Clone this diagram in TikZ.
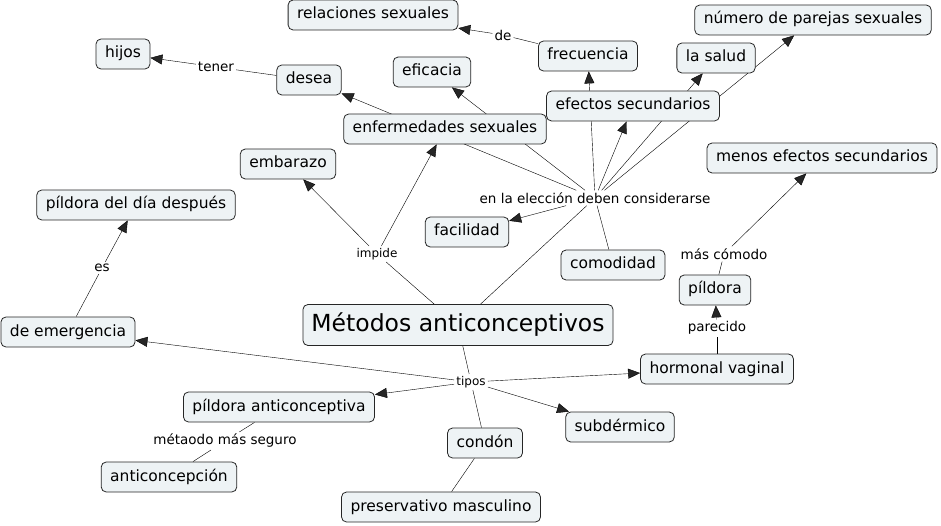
\documentclass[tikz,border=0pt]{standalone}
\usepackage{fontspec}
\setmainfont{DejaVu Sans}
\usetikzlibrary{arrows.meta}
\usetikzlibrary{backgrounds}
\definecolor{fondoconcepto}{HTML}{EEF3F5}

\tikzset{
  concepto/.style={draw=black!85, fill=fondoconcepto, rounded corners=5pt, line width=0.8pt,
    font=\fontsize{15.5}{18}\selectfont, inner xsep=9pt, inner ysep=7.5pt,
    text height=11.5pt, text depth=3.5pt},
  principal/.style={concepto, font=\fontsize{23.5}{27}\selectfont, inner xsep=8.5pt,
    inner ysep=9.5pt, text height=17pt, text depth=5pt},
  enlace/.style={inner sep=2pt, font=\fontsize{13.5}{16}\selectfont},
  enlacechico/.style={enlace, font=\fontsize{12}{14}\selectfont},
  flecha/.style={-{Triangle[length=12pt,width=10pt]}},
}

\begin{document}
\begin{tikzpicture}[x=1pt, y=-1pt]

  \useasboundingbox (0,0) rectangle (941,526);

  % conceptos
  \node[concepto] (relaciones) at (373,15) {relaciones sexuales};
  \node[concepto] (hijos) at (123,54) {hijos};
  \node[concepto] (desea) at (309,80) {desea};
  \node[concepto] (eficacia) at (432,72) {eficacia};
  \node[concepto] (frecuencia) at (588,56) {frecuencia};
  \node[concepto] (salud) at (716,58) {la salud};
  \node[concepto] (parejas) at (813,20) {número de parejas sexuales};
  \node[concepto] (efectos) at (633,106) {efectos secundarios};
  \node[concepto] (enfermedades) at (445,129) {enfermedades sexuales};
  \node[concepto] (embarazo) at (288,164) {embarazo};
  \node[concepto] (menos) at (822,158) {menos efectos secundarios};
  \node[concepto] (diadespues) at (136,205) {píldora del día después};
  \node[concepto] (facilidad) at (467,232) {facilidad};
  \node[concepto] (comodidad) at (613,265) {comodidad};
  \node[concepto] (pildora) at (715,290) {píldora};
  \node[principal] (metodos) at (458,325) {Métodos anticonceptivos};
  \node[concepto] (emergencia) at (68,332) {de emergencia};
  \node[concepto] (hormonal) at (717,369) {hormonal vaginal};
  \node[concepto] (anticonceptiva) at (279,407) {píldora anticonceptiva};
  \node[concepto] (subdermico) at (620,427) {subdérmico};
  \node[concepto] (condon) at (485,443) {condón};
  \node[concepto] (anticoncepcion) at (169,477) {anticoncepción};
  \node[concepto] (preservativo) at (441,507) {preservativo masculino};

  % frases de enlace
  \node[enlace] (tener) at (216,67) {tener};
  \node[enlace] (de) at (503,35) {de};
  \node[enlace] (eleccion) at (595,198) {en la elección deben considerarse};
  \node[enlacechico] (impide) at (377,254) {impide};
  \node[enlace] (es) at (102,268) {es};
  \node[enlace] (comodo) at (724,254) {más cómodo};
  \node[enlace] (parecido) at (717,328) {parecido};
  \node[enlacechico] (tipos) at (471,382) {tipos};
  \node[enlace] (seguro) at (225,441) {métaodo más seguro};

  \begin{scope}[on background layer, line width=0.8pt, draw=black!85]
    \draw (desea) -- (tener);
    \draw[flecha] (tener) -- (hijos);
    \draw (frecuencia) -- (de);
    \draw[flecha] (de) -- (relaciones);

    \draw (metodos) -- (eleccion);
    \draw (comodidad) -- (eleccion);
    \foreach \t in {desea,eficacia,frecuencia,efectos,salud,parejas,facilidad}
      \draw[flecha] (eleccion) -- (\t);

    \draw (metodos) -- (impide);
    \foreach \t in {embarazo,enfermedades}
      \draw[flecha] (impide) -- (\t);

    \draw (metodos) -- (tipos);
    \draw (condon) -- (tipos);
    \foreach \t in {emergencia,anticonceptiva,hormonal,subdermico}
      \draw[flecha] (tipos) -- (\t);

    \draw (emergencia) -- (es);
    \draw[flecha] (es) -- (diadespues);
    \draw (anticonceptiva) -- (seguro);
    \draw (seguro) -- (anticoncepcion);
    \draw (hormonal) -- (parecido);
    \draw[flecha] (parecido) -- (pildora);
    \draw (pildora) -- (comodo);
    \draw[flecha] (comodo) -- (menos);
    \draw (condon) -- (preservativo);
  \end{scope}

\end{tikzpicture}
\end{document}
